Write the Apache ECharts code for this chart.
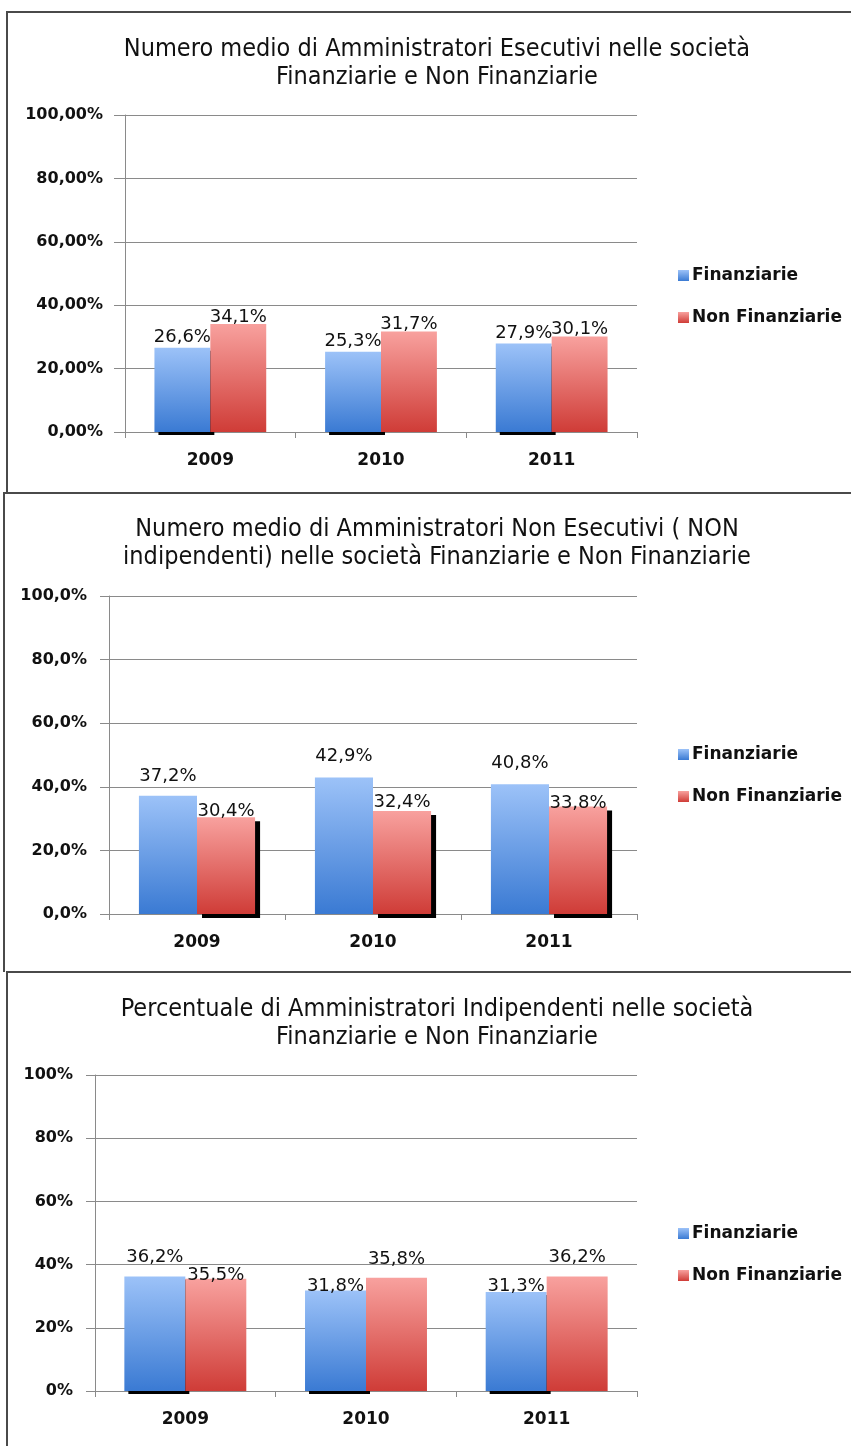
<!DOCTYPE html>
<html>
<head>
<meta charset="utf-8">
<script src="https://cdn.jsdelivr.net/npm/echarts@6/dist/echarts.min.js"></script>
<style>
html,body{margin:0;padding:0;background:#fff;}
#c{width:851px;height:1446px;}
</style>
</head>
<body>
<div id="c"></div>
<script>
// ---- data ----
const categories = ['2009', '2010', '2011'];
const seriesNames = ['Finanziarie', 'Non Finanziarie'];

const titles = [
  'Numero medio di Amministratori Esecutivi nelle società\nFinanziarie e Non Finanziarie',
  'Numero medio di Amministratori Non Esecutivi ( NON\nindipendenti) nelle società Finanziarie e Non Finanziarie',
  'Percentuale di Amministratori Indipendenti nelle società\nFinanziarie e Non Finanziarie'
];

const esecFin = [26.6, 25.3, 27.9];
const esecNonFin = [34.1, 31.7, 30.1];

const nonEsecFin = [37.2, 42.9, 40.8];
const nonEsecNonFin = [30.4, 32.4, 33.8];

const indipFin = [36.2, 31.8, 31.3];
const indipNonFin = [35.5, 35.8, 36.2];

const yTickValues = [0, 20, 40, 60, 80, 100];
const yTickDecimals = [2, 1, 0];

// ---- layout / style ----
const panels = [
  { top: 12, left: 7, bottom: 493, titleTop: 30, grid: { left: 125, top: 115, width: 512, height: 317 }, gap: '34.5%', legendTop: 262,
    labelDist: [[1, 1, 1], [-2, -2, -2]], shadow: [[4, 3], null] },
  { top: 493, left: 4, bottom: 972, titleTop: 510, grid: { left: 109, top: 596, width: 528, height: 318 }, gap: '34%', legendTop: 741,
    labelDist: [[10, 12, 12], [-3, 0, -6]], shadow: [null, [5, 4]] },
  { top: 972, left: 7, bottom: 1460, titleTop: 990, grid: { left: 95, top: 1075, width: 542, height: 316 }, gap: '32.5%', legendTop: 1220,
    labelDist: [[10, -5, -3], [-6, 10, 10]], shadow: [[4, 3], null] }
];
const seriesData = [[esecFin, esecNonFin], [nonEsecFin, nonEsecNonFin], [indipFin, indipNonFin]];

const blueGrad = new echarts.graphic.LinearGradient(0, 0, 0, 1, [
  { offset: 0, color: '#9cc2f8' }, { offset: 1, color: '#3a7ad3' }]);
const redGrad = new echarts.graphic.LinearGradient(0, 0, 0, 1, [
  { offset: 0, color: '#f8a19e' }, { offset: 1, color: '#cf3c37' }]);
const colors = [blueGrad, redGrad];

const fmtPct = v => v.toFixed(1).replace('.', ',') + '%';

const option = {
  animation: false,
  backgroundColor: '#fff',
  title: [], grid: [], xAxis: [], yAxis: [], series: [], legend: [],
  graphic: []
};

panels.forEach((p, i) => {
  option.graphic.push({
    type: 'polyline', silent: true,
    shape: { points: [[870, p.top], [p.left, p.top], [p.left, p.bottom]] },
    style: { stroke: '#4a4a4a', lineWidth: 2, fill: null }
  });
  option.title.push({
    text: titles[i], left: 432, top: p.titleTop, textAlign: 'center',
    textStyle: { fontFamily: 'Liberation Sans Narrow, DejaVu Sans Condensed, sans-serif', fontSize: 25, lineHeight: 28, fontWeight: 'normal', color: '#111' }
  });
  option.grid.push(Object.assign({ containLabel: false }, p.grid));
  option.xAxis.push({
    type: 'category', gridIndex: i, data: categories,
    axisLine: { lineStyle: { color: '#8a8a8a', width: 1 } },
    axisTick: { show: true, length: 6, lineStyle: { color: '#8a8a8a' } },
    axisLabel: { margin: 20, fontFamily: 'DejaVu Sans', fontSize: 17, fontWeight: 'bold', color: '#111' }
  });
  const dec = yTickDecimals[i];
  option.yAxis.push({
    type: 'value', gridIndex: i, min: yTickValues[0], max: yTickValues[yTickValues.length - 1], interval: yTickValues[1] - yTickValues[0],
    axisLine: { show: true, lineStyle: { color: '#8a8a8a', width: 1 } },
    axisTick: { show: true, length: i === 0 ? 11 : 9, lineStyle: { color: '#8a8a8a' } },
    splitLine: { lineStyle: { color: '#8a8a8a', width: 1 } },
    axisLabel: { margin: 22, fontFamily: 'DejaVu Sans', fontSize: 16, fontWeight: 'bold', color: '#111',
      formatter: v => v.toFixed(dec).replace('.', ',') + '%' }
  });
  seriesNames.forEach((name, s) => {
    const sh = p.shadow[s];
    const itemStyle = { color: colors[s] };
    if (sh) {
      itemStyle.shadowColor = '#000';
      itemStyle.shadowBlur = 0;
      itemStyle.shadowOffsetX = sh[0];
      itemStyle.shadowOffsetY = sh[1];
    }
    option.series.push({
      type: 'bar', name: name, xAxisIndex: i, yAxisIndex: i,
      barGap: '0%', barCategoryGap: p.gap,
      itemStyle: itemStyle,
      data: seriesData[i][s].map((v, k) => ({ value: v, label: { distance: p.labelDist[s][k] } })),
      label: { show: true, position: 'top', formatter: d => fmtPct(d.value), fontFamily: 'DejaVu Sans', fontSize: 18, color: '#111' }
    });
  });
  option.legend.push({
    data: seriesNames, orient: 'vertical', left: 673, top: p.legendTop,
    itemWidth: 11, itemHeight: 11, itemGap: 25, icon: 'rect', selectedMode: false,
    textStyle: { fontFamily: 'DejaVu Sans', fontSize: 17, fontWeight: 'bold', color: '#111', padding: [0, 0, 0, -2] }
  });
});

const chart = echarts.init(document.getElementById('c'), null, { renderer: 'canvas' });
chart.setOption(option);
</script>
</body>
</html>
